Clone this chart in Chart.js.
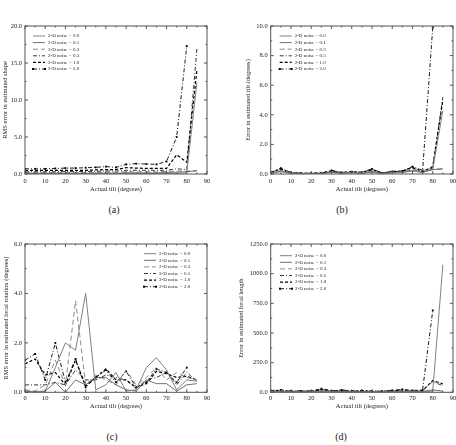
<!DOCTYPE html>
<html lang="en">
<head>
<meta charset="UTF-8">
<title>Errors vs actual tilt</title>
<script src="https://cdn.jsdelivr.net/npm/chart.js"></script>
<style>
  body { margin: 0; width: 456px; height: 445px; overflow: hidden; background: #fff; position: relative; font-family: 'Liberation Serif', serif; }
  canvas { position: absolute; }
  .cap { position: absolute; width: 40px; text-align: center; font-size: 10px; line-height: 12px; color: #222; }
</style>
</head>
<body>
<canvas id="chartA" width="228" height="200" style="left:0;top:0"></canvas>
<canvas id="chartB" width="240" height="200" style="left:228px;top:0"></canvas>
<canvas id="chartC" width="228" height="200" style="left:0;top:220px"></canvas>
<canvas id="chartD" width="240" height="200" style="left:228px;top:220px"></canvas>
<div class="cap" style="left:94px;top:204px">(a)</div>
<div class="cap" style="left:322px;top:204px">(b)</div>
<div class="cap" style="left:92px;top:431px">(c)</div>
<div class="cap" style="left:321px;top:431px">(d)</div>

<script>
// tilt angles (degrees) on the x axis
const tilt = [0, 5, 10, 15, 20, 25, 30, 35, 40, 45, 50, 55, 60, 65, 70, 75, 80, 85];
const noiseLabels = ['2-D noise = 0.0', '2-D noise = 0.1', '2-D noise = 0.3', '2-D noise = 0.5', '2-D noise = 1.0', '2-D noise = 2.0'];

// (a) RMS error in estimated shape
const shapeN00 = [0.05, 0.05, 0.05, 0.05, 0.05, 0.05, 0.05, 0.05, 0.05, 0.05, 0.08, 0.08, 0.08, 0.08, 0.1, 0.1, 0.15, 12.3];
const shapeN01 = [0.1, 0.1, 0.1, 0.1, 0.1, 0.1, 0.1, 0.1, 0.12, 0.12, 0.15, 0.15, 0.15, 0.15, 0.2, 0.25, 0.3, 0.45];
const shapeN03 = [0.2, 0.2, 0.2, 0.2, 0.2, 0.2, 0.22, 0.22, 0.25, 0.25, 0.3, 0.3, 0.3, 0.3, 0.35, 0.4, 0.4, 0.4];
const shapeN05 = [0.3, 0.3, 0.3, 0.3, 0.32, 0.32, 0.35, 0.35, 0.4, 0.4, 0.5, 0.5, 0.5, 0.5, 0.5, 0.7, 0.6, 16.9];
const shapeN10 = [0.5, 0.5, 0.5, 0.5, 0.5, 0.5, 0.5, 0.55, 0.6, 0.6, 0.85, 0.8, 0.75, 0.75, 0.75, 2.6, 1.6, 14.0];
const shapeN20 = [0.7, 0.7, 0.7, 0.75, 0.8, 0.8, 0.85, 0.9, 1.0, 0.9, 1.3, 1.4, 1.35, 1.3, 1.7, 5.0, 17.3];

// (b) error in estimated tilt
const tiltN00 = [0.05, 0.15, 0.05, 0.03, 0.03, 0.03, 0.1, 0.05, 0.08, 0.05, 0.12, 0.03, 0.08, 0.1, 0.2, 0.1, 0.3, 4.3];
const tiltN01 = [0.05, 0.2, 0.05, 0.03, 0.03, 0.04, 0.12, 0.06, 0.1, 0.06, 0.15, 0.04, 0.1, 0.12, 0.25, 0.12, 0.3, 0.35];
const tiltN03 = [0.06, 0.25, 0.06, 0.04, 0.04, 0.05, 0.15, 0.08, 0.1, 0.08, 0.2, 0.05, 0.12, 0.15, 0.3, 0.25, 0.3, 0.35];
const tiltN05 = [0.08, 0.3, 0.07, 0.04, 0.04, 0.05, 0.18, 0.1, 0.12, 0.1, 0.25, 0.06, 0.15, 0.18, 0.4, 0.2, 0.4, 5.2];
const tiltN10 = [0.1, 0.35, 0.08, 0.05, 0.05, 0.06, 0.2, 0.1, 0.15, 0.1, 0.3, 0.08, 0.15, 0.2, 0.45, 0.15, 0.5, 5.0];
const tiltN20 = [0.1, 0.4, 0.1, 0.05, 0.05, 0.06, 0.25, 0.1, 0.15, 0.12, 0.35, 0.06, 0.18, 0.2, 0.5, 0.25, 9.9];

// (c) RMS error in estimated local rotation
const rotN00 = [0.05, 0.0, 0.05, 1.0, 2.0, 1.7, 4.0, 0.1, 0.3, 0.8, 0.05, 0.1, 1.0, 1.4, 0.9, 0.1, 0.5, 0.45];
const rotN01 = [0.05, 0.02, 0.05, 0.4, 0.0, 0.5, 0.3, 0.6, 0.6, 0.3, 0.1, 0.05, 0.5, 0.35, 0.35, 0.05, 0.3, 0.35];
const rotN03 = [0.1, 0.05, 0.3, 1.3, 0.3, 3.7, 0.3, 0.7, 0.5, 0.3, 0.9, 0.3, 0.6, 1.0, 0.5, 0.8, 0.6, 0.5];
const rotN05 = [0.3, 0.3, 0.3, 0.4, 0.3, 0.9, 0.5, 0.5, 0.7, 0.6, 0.5, 0.15, 0.5, 0.6, 0.8, 0.3, 0.8, 0.45];
const rotN10 = [1.15, 1.35, 0.7, 0.8, 0.3, 1.3, 0.25, 0.6, 0.95, 0.5, 0.5, 0.2, 0.35, 0.85, 0.75, 0.6, 0.65, 0.5];
const rotN20 = [1.3, 1.55, 0.5, 2.0, 0.4, 1.35, 0.2, 0.6, 0.9, 0.4, 0.85, 0.2, 0.4, 0.95, 0.8, 0.4, 1.0];

// (d) error in estimated focal length
const focN00 = [5, 5, 3, 3, 3, 5, 5, 3, 3, 3, 3, 3, 3, 5, 5, 5, 10, 1075];
const focN01 = [8, 8, 5, 5, 5, 10, 8, 5, 5, 5, 5, 5, 5, 8, 8, 8, 20, 10];
const focN03 = [10, 12, 6, 8, 6, 15, 10, 8, 6, 8, 6, 6, 8, 12, 10, 10, 95, 60];
const focN05 = [10, 15, 8, 10, 8, 20, 10, 12, 8, 10, 8, 6, 10, 15, 12, 12, 90, 55];
const focN10 = [12, 15, 8, 10, 8, 25, 12, 15, 10, 12, 8, 8, 12, 20, 12, 15, 100, 70];
const focN20 = [15, 20, 10, 12, 10, 30, 12, 20, 10, 15, 10, 10, 15, 25, 15, 20, 690];

// line styles for each noise level
const styles = [
    { color: '#808080', width: 1, dash: [] },
    { color: '#333', width: 0.7, dash: [] },
    { color: '#8c8c8c', width: 1, dash: [5, 3] },
    { color: '#000', width: 0.8, dash: [4, 2, 1, 2] },
    { color: '#000', width: 1.2, dash: [3, 2] },
    { color: '#000', width: 0.9, dash: [4, 2, 1, 2], marker: true }
];

const FONT = 'Liberation Serif';

// frame, inward ticks and the legend inside the plot
const framePlugin = {
    id: 'frame',
    afterDraw(chart, args, opts) {
        const { ctx, chartArea: a, scales: { x, y } } = chart;
        ctx.save();
        ctx.strokeStyle = '#555';
        ctx.lineWidth = 1;
        ctx.setLineDash([]);
        ctx.strokeRect(a.left, a.top, a.right - a.left, a.bottom - a.top);

        function tick(x1, y1, x2, y2) {
            ctx.beginPath(); ctx.moveTo(x1, y1); ctx.lineTo(x2, y2); ctx.stroke();
        }
        x.ticks.forEach((t, i) => {
            const px = x.getPixelForValue(t.value);
            tick(px, a.bottom, px, a.bottom - 3);
            tick(px, a.top, px, a.top + 3);
            if (i < x.ticks.length - 1) {
                const mx = x.getPixelForValue(t.value + opts.xStep / 2);
                tick(mx, a.bottom, mx, a.bottom - 1.5);
                tick(mx, a.top, mx, a.top + 1.5);
            }
        });
        y.ticks.forEach((t, i) => {
            const py = y.getPixelForValue(t.value);
            tick(a.left, py, a.left + 3, py);
            tick(a.right, py, a.right - 3, py);
            if (i < y.ticks.length - 1) {
                const my = y.getPixelForValue(t.value + opts.yStep / 2);
                tick(a.left, my, a.left + 1.5, my);
                tick(a.right, my, a.right - 1.5, my);
            }
        });

        // legend
        ctx.font = '5px "' + FONT + '"';
        ctx.textBaseline = 'middle';
        ctx.fillStyle = '#222';
        chart.data.datasets.forEach((ds, i) => {
            const st = styles[i];
            const ly = opts.ly + i * opts.step;
            ctx.strokeStyle = st.color;
            ctx.lineWidth = st.width;
            ctx.setLineDash(st.dash);
            tick(opts.lx, ly, opts.lx + 12, ly);
            if (st.marker) {
                ctx.fillStyle = '#000';
                ctx.fillRect(opts.lx - 1, ly - 1, 2, 2);
                ctx.fillRect(opts.lx + 11, ly - 1, 2, 2);
                ctx.fillStyle = '#222';
            }
            ctx.fillText(ds.label, opts.lx + 15, ly);
        });
        ctx.restore();
    }
};

function makeChart(id, series, yMax, yStep, yTitle, box) {
    const datasets = series.map((vals, i) => {
        const st = styles[i];
        return {
            label: noiseLabels[i],
            data: vals.map((v, k) => ({ x: tilt[k], y: v })),
            borderColor: st.color,
            borderWidth: st.width,
            borderDash: st.dash,
            pointRadius: st.marker ? 1.3 : 0,
            pointStyle: 'rect',
            pointBackgroundColor: '#000',
            pointBorderWidth: 0,
            tension: 0,
            fill: false
        };
    });
    return new Chart(document.getElementById(id), {
        type: 'line',
        data: { datasets: datasets },
        plugins: [framePlugin],
        options: {
            responsive: false,
            animation: false,
            layout: { padding: { left: 0, top: box.top, right: box.right, bottom: 0 } },
            plugins: {
                legend: { display: false },
                tooltip: { enabled: false },
                frame: { lx: box.lx, ly: box.ly, step: 6.6, xStep: 10, yStep: yStep }
            },
            scales: {
                x: {
                    type: 'linear', min: 0, max: 90,
                    grid: { display: false, drawTicks: false }, border: { display: false },
                    ticks: { stepSize: 10, padding: box.xPad, color: '#222', font: { family: FONT, size: 6.5 } },
                    title: { display: true, text: 'Actual tilt (degrees)', color: '#222',
                             font: { family: FONT, size: 6.5 }, padding: { top: 0, bottom: box.xTitlePad } },
                    afterFit(s) { s.height = box.xH; }
                },
                y: {
                    min: 0, max: yMax,
                    grid: { display: false, drawTicks: false }, border: { display: false },
                    ticks: { stepSize: yStep, padding: 3, color: '#222', font: { family: FONT, size: 6.5 },
                             callback: v => v.toFixed(1) },
                    title: { display: true, text: yTitle, color: '#222',
                             font: { family: FONT, size: 6.5 }, padding: { top: box.yTitlePad, bottom: 0 } },
                    afterFit(s) { s.width = box.yW; }
                }
            }
        }
    });
}

makeChart('chartA', [shapeN00, shapeN01, shapeN03, shapeN05, shapeN10, shapeN20], 20, 5,
    'RMS error in estimated shape',
    { top: 26, right: 21, yW: 25, xH: 26, xPad: 3, xTitlePad: 7, yTitlePad: 1, lx: 33, ly: 36 });

makeChart('chartB', [tiltN00, tiltN01, tiltN03, tiltN05, tiltN10, tiltN20], 10, 2,
    'Error in estimated tilt (degrees)',
    { top: 26, right: 15, yW: 42.7, xH: 26, xPad: 3, xTitlePad: 7, yTitlePad: 16.8, lx: 51.7, ly: 36 });

makeChart('chartC', [rotN00, rotN01, rotN03, rotN05, rotN10, rotN20], 6, 2,
    'RMS error in estimated local rotation (degrees)',
    { top: 24, right: 21, yW: 25, xH: 27.7, xPad: 2, xTitlePad: 10, yTitlePad: 2.8, lx: 144, ly: 33.7 });

makeChart('chartD', [focN00, focN01, focN03, focN05, focN10, focN20], 1250, 250,
    'Error in estimated focal length',
    { top: 24, right: 15, yW: 42.7, xH: 27.7, xPad: 2, xTitlePad: 10, yTitlePad: 9.4, lx: 52, ly: 35.7 });
</script>
</body>
</html>
